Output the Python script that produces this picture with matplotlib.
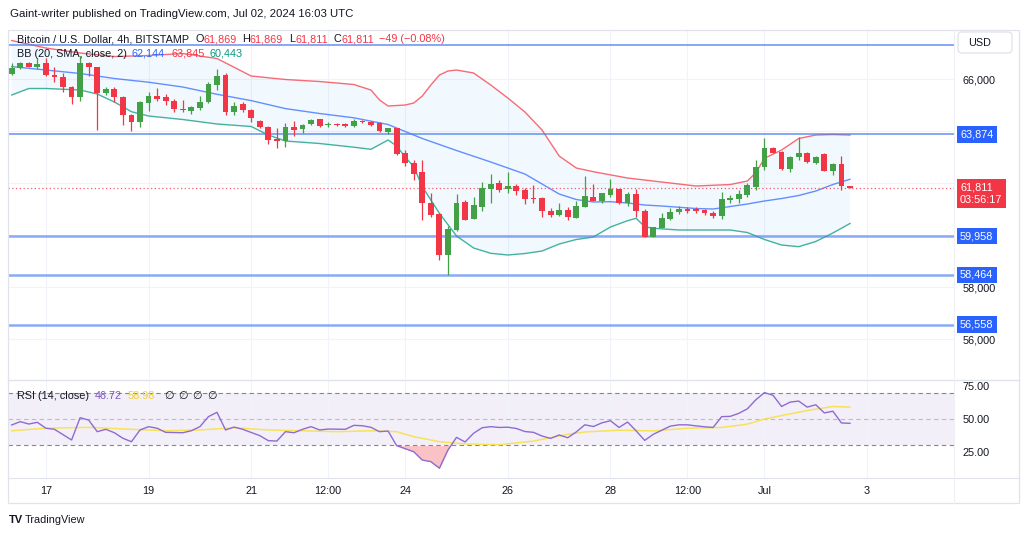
import numpy as np
import pandas as pd
import matplotlib
matplotlib.use("Agg")
import matplotlib.pyplot as plt
import matplotlib.transforms as mtrans
from matplotlib.patches import Rectangle, FancyBboxPatch

plt.rcParams['font.family'] = ['Liberation Sans', 'DejaVu Sans']

# ---------------- data ----------------
start_time = pd.Timestamp('2024-06-16 08:00')   # first visible 4h candle
opens = [66181, 66412, 66604, 66473, 66604, 66154, 66088, 65704, 65296, 66627,
         66450, 65450, 65615, 65319, 64627, 64335, 65065, 65346, 65296, 65165,
         64858, 64781, 64896, 65104, 65769, 66154, 64742, 65038, 64808, 64396,
         64165, 63681, 63627, 64165, 64077, 64269, 64450, 64212, 64269, 64258,
         64192, 64385, 64358, 64296, 63973, 64104, 63142, 62781, 62435, 61219,
         60796, 59231, 60192, 61281, 60615, 61089, 61769, 61988, 61769, 61896,
         61731, 61412, 61442, 60931, 60769, 60962, 60673, 61096, 61462, 61327,
         61538, 61758, 61219, 61565, 60935, 59935, 60281, 60615, 60896, 60988,
         60988, 60962, 60858, 60731, 61346, 61385, 61538, 61858, 62627, 63358,
         63204, 62527, 63012, 63142, 62758, 63104, 62473, 62719, 61869]
highs = [66604, 66666, 66666, 66796, 66796, 66473, 66219, 65731, 66885, 66666,
         66473, 65704, 65704, 65330, 64654, 65165, 65512, 65642, 65423, 65219,
         65192, 64962, 65346, 65896, 66385, 66242, 65127, 65127, 64835, 64423,
         64192, 64104, 64296, 64385, 64269, 64450, 64460, 64335, 64319, 64300,
         64462, 64410, 64385, 64358, 64127, 64127, 63269, 62885, 62885, 61604,
         60846, 60346, 61566, 61346, 61473, 62050, 62346, 62115, 62435, 61950,
         61796, 61923, 61473, 61027, 61219, 61089, 61327, 62269, 61962, 61630,
         62146, 61770, 61665, 61769, 60989, 60310, 60835, 61027, 61115, 61065,
         61065, 60988, 60935, 61665, 61538, 61731, 61988, 62885, 63719, 63396,
         63220, 63030, 63781, 63204, 63040, 63142, 62758, 63040, 61869]
lows = [66154, 66385, 66450, 66373, 66115, 65896, 65512, 65038, 65154, 66115,
        64038, 65385, 65127, 64231, 64012, 64142, 64769, 65154, 65000, 64742,
        64742, 64654, 64808, 65065, 65577, 64615, 64615, 64742, 64358, 64104,
        63488, 63335, 63396, 63808, 63912, 64231, 64170, 64165, 64192, 64170,
        64165, 64310, 64200, 63973, 63885, 63077, 62654, 62115, 60577, 60681,
        59038, 58462, 60165, 60560, 60600, 60923, 61231, 61665, 61635, 61538,
        61192, 61219, 60681, 60681, 60750, 60577, 60642, 61089, 61308, 61250,
        61473, 61192, 61115, 60681, 59923, 59912, 60258, 60577, 60808, 60835,
        60858, 60769, 60642, 60615, 61242, 61242, 61473, 61731, 62500, 63142,
        62500, 62412, 62885, 62758, 62719, 62460, 62308, 61731, 61811]
closes = [66412, 66604, 66473, 66577, 66154, 66088, 65704, 65296, 66604, 66450,
          65450, 65615, 65319, 64615, 64358, 65127, 65358, 65231, 65154, 64846,
          64819, 64912, 65127, 65796, 66115, 64742, 64962, 64808, 64488, 64142,
          63654, 63627, 64165, 64038, 64231, 64423, 64192, 64277, 64219, 64192,
          64385, 64335, 64231, 64012, 64104, 63115, 62758, 62346, 61219, 60769,
          59231, 60219, 61243, 60577, 61154, 61796, 61962, 61731, 61896, 61704,
          61373, 61373, 60912, 60769, 60962, 60692, 61115, 61500, 61327, 61615,
          61758, 61219, 61565, 60935, 59935, 60296, 60642, 60896, 60988, 60935,
          60935, 60835, 60742, 61385, 61435, 61577, 61923, 62627, 63335, 63165,
          62527, 63012, 63142, 62796, 63012, 62473, 62719, 61869, 61811]

# Bollinger Bands (20, SMA, close, 2) at candle indices
bb_mid_idx = [0, 4, 8, 12, 16, 20, 24, 28, 32, 36, 40, 44, 48, 52, 56, 60, 62, 64,
              66, 68, 70, 72, 74, 76, 80, 82, 84, 86, 88, 90, 92, 94, 96, 98]
bb_mid = [66477, 66346, 66212, 66019, 65877, 65692, 65412, 65169, 64862, 64673,
          64508, 64250, 63712, 63250, 62808, 62346, 61962, 61577, 61365, 61269,
          61281, 61231, 61154, 61115, 61019, 61000, 61096, 61192, 61308, 61404,
          61519, 61692, 61942, 62144]
bb_up_idx = [0, 4, 8, 12, 16, 20, 24, 28, 32, 36, 40, 42, 43, 44, 46, 47, 48, 49,
             50, 51, 52, 54, 56, 58, 60, 62, 64, 66, 68, 72, 76, 80, 84, 86, 87,
             88, 90, 92, 94, 96, 98]
bb_up = [67481, 67192, 67000, 66865, 66904, 66981, 66788, 66115, 65981, 65904,
         65788, 65577, 65192, 64962, 65000, 65077, 65346, 65769, 66154, 66308,
         66346, 66231, 65769, 65269, 64731, 64038, 63038, 62577, 62435, 62192,
         62038, 61885, 61942, 62077, 62400, 62950, 63269, 63712, 63846, 63865,
         63845]
bb_lo_idx = [0, 2, 4, 8, 10, 12, 14, 16, 20, 24, 28, 30, 32, 36, 40, 42, 44, 45,
             46, 47, 48, 49, 50, 52, 54, 56, 58, 60, 62, 64, 66, 68, 70, 72, 73,
             74, 75, 78, 84, 86, 88, 90, 92, 94, 96, 98]
bb_lo = [65385, 65635, 65635, 65577, 65423, 65115, 64742, 64577, 64442, 64269,
         64173, 63846, 63615, 63519, 63377, 63296, 63654, 63423, 63000, 62627,
         61858, 61346, 60835, 59962, 59500, 59296, 59231, 59288, 59385, 59654,
         59827, 59923, 60308, 60550, 60642, 60319, 60258, 60192, 60192, 60096,
         59827, 59615, 59550, 59750, 60077, 60443]

# Horizontal support / resistance levels
levels = [67308, 63874, 59958, 58464, 56558]
level_labels = ['', '63,874', '59,958', '58,464', '56,558']
last_price = 61811

# RSI (14, close) and its moving average
rsi_idx = [0, 1, 2, 3, 4, 5, 7, 8, 9, 10, 11, 12, 13, 14, 15, 16, 17, 18,
           20, 21, 22, 23, 24, 25, 26, 27, 29, 30, 31, 32, 33, 34, 35, 36, 37,
           39, 40, 41, 42, 43, 44, 45, 47, 48, 49, 50, 51, 52, 53, 54, 55, 56,
           57, 58, 59, 60, 61, 62, 63, 64, 65, 66, 67, 68, 69, 70, 71, 72, 73,
           74, 75, 77, 78, 79, 80, 81, 82, 83, 84, 85, 86, 87, 88, 89, 90, 91,
           92, 93, 94, 95, 96, 97, 98]
rsi = [45.5, 48.0, 46.2, 47.5, 43.0, 42.2, 34.1, 51.0, 49.2, 40.4, 42.2, 39.6,
       35.4, 32.8, 41.7, 44.2, 43.0, 39.9, 39.6, 41.1, 44.2, 51.8, 55.1, 41.7,
       43.9, 42.2, 37.4, 33.6, 33.3, 40.4, 39.6, 42.2, 44.2, 41.7, 42.4, 42.2,
       45.2, 44.9, 43.7, 40.4, 40.9, 29.8, 25.2, 18.9, 17.7, 12.7, 26.5, 36.1,
       32.6, 39.2, 43.4, 44.2, 43.6, 43.8, 42.8, 40.5, 39.9, 37.1, 35.3, 37.9,
       35.8, 40.2, 45.6, 44.3, 47.1, 48.7, 43.6, 47.7, 41.0, 33.8, 38.4, 44.6,
       45.6, 45.6, 44.8, 44.1, 43.6, 51.8, 52.0, 54.3, 57.7, 64.6, 70.0, 68.0,
       59.5, 62.8, 63.6, 59.0, 60.8, 54.6, 55.9, 47.0, 46.72]
rsi_ma_idx = [0, 4, 9, 14, 18, 22, 26, 30, 34, 38, 42, 45, 47, 50, 53, 57, 61,
              65, 67, 71, 75, 79, 83, 86, 88, 90, 93, 96, 98]
rsi_ma = [41.1, 43.0, 43.7, 42.2, 41.1, 41.7, 43.4, 41.7, 41.1, 40.4, 41.1, 40.4,
          36.6, 32.8, 31.1, 30.5, 33.3, 38.4, 40.2, 41.5, 41.0, 43.0, 43.6, 46.1,
          50.0, 52.6, 56.4, 59.5, 58.98]

tick_dates = ['2024-06-17', '2024-06-19', '2024-06-21', '2024-06-22 12:00',
              '2024-06-24', '2024-06-26', '2024-06-28', '2024-06-29 12:00',
              '2024-07-01', '2024-07-03']
tick_labels = ['17', '19', '21', '12:00', '24', '26', '28', '12:00', 'Jul', '3']
price_ticks = [56000, 58000, 60000, 62000, 64000, 66000]
hidden_price_ticks = [60000, 62000, 64000]     # covered by level labels in the chart
rsi_ticks = [25, 50, 75]

# ---------------- styling ----------------
GREEN = '#43A047'
RED = '#F23645'
BLUE = '#2962FF'
TEAL = '#089981'
LEVEL = '#4A7EF0'
TXT = '#131722'
GRID = '#F0F3FA'
FS = 7.8

W, H = 1024, 536
fig = plt.figure(figsize=(W / 100, H / 100), dpi=100)
fig.patch.set_facecolor('white')


def axes_px(x0, y0, x1, y1, **kw):
    return fig.add_axes([x0 / W, 1 - y1 / H, (x1 - x0) / W, (y1 - y0) / H], **kw)


XL, XR = 8, 954
x_left = (XL - 11.7) / 8.554
x_right = (XR - 11.7) / 8.554
tick_pos = [(pd.Timestamp(d) - start_time) / pd.Timedelta(hours=4) for d in tick_dates]

# ---------- main price pane ----------
ax = axes_px(XL, 30, XR, 379)
ax.set_xlim(x_left, x_right)
ax.set_ylim(54462, 67885)
for s in ax.spines.values():
    s.set_visible(False)
ax.set_xticks(tick_pos)
ax.set_xticklabels([])
ax.set_yticks(price_ticks)
ax.set_yticklabels(['' if v in hidden_price_ticks else f'{v:,}' for v in price_ticks])
ax.yaxis.tick_right()
ax.tick_params(axis='both', length=0, labelsize=FS, labelcolor=TXT, pad=6)
ax.grid(True, color=GRID, linewidth=0.8, zorder=0)
ax.set_axisbelow(True)

# Bollinger band fill and lines
poly_x = list(bb_up_idx) + list(bb_lo_idx)[::-1]
poly_y = list(bb_up) + list(bb_lo)[::-1]
ax.fill(poly_x, poly_y, color='#2196F3', alpha=0.06, lw=0, zorder=1)
ax.plot(bb_up_idx, bb_up, color='#F7525F', lw=1.0, alpha=0.85, zorder=2)
ax.plot(bb_mid_idx, bb_mid, color=BLUE, lw=1.0, alpha=0.7, zorder=2)
ax.plot(bb_lo_idx, bb_lo, color=TEAL, lw=1.0, alpha=0.75, zorder=2)

# horizontal levels
for i, lv in enumerate(levels):
    lw = 1.1 if i < 2 else 1.8
    ax.axhline(lv, color=LEVEL, lw=lw, alpha=0.85 if i < 2 else 0.65, zorder=2.5)

# last price dotted line
ax.axhline(last_price, color=RED, lw=0.9, ls=(0, (1, 2)), alpha=0.8, zorder=2.5)

# candles
o = np.array(opens); h = np.array(highs); l = np.array(lows); c = np.array(closes)
idx = np.arange(len(o))
cols = np.where(c >= o, GREEN, RED)
ax.vlines(idx, l, h, colors=cols, linewidth=0.9, zorder=3)
ax.bar(idx, np.maximum(np.abs(c - o), 40), bottom=np.minimum(o, c), width=0.68,
       color=cols, linewidth=0, zorder=4)

# right-side price labels
tr = mtrans.blended_transform_factory(ax.transAxes, ax.transData)
for lv, lab in zip(levels, level_labels):
    if lab:
        ax.text(1 + 6 / 946, lv, lab, transform=tr, ha='left', va='center',
                color='white', fontsize=FS, clip_on=False, zorder=20,
                bbox=dict(boxstyle='square,pad=0.3', fc=BLUE, ec='none'))
ax.text(1 + 6 / 946, last_price - 230, f'{last_price:,}\n03:56:17', transform=tr,
        ha='left', va='center', color='white', fontsize=FS, clip_on=False,
        zorder=20, linespacing=1.3,
        bbox=dict(boxstyle='square,pad=0.3', fc=RED, ec='none'))

# ---------- RSI pane ----------
ax2 = axes_px(XL, 381, XR, 478)
ax2.set_xlim(x_left, x_right)
ax2.set_ylim(5.3, 78.8)
for s in ax2.spines.values():
    s.set_visible(False)
ax2.set_xticks(tick_pos)
ax2.set_xticklabels(tick_labels)
ax2.set_yticks(rsi_ticks)
ax2.set_yticklabels([f'{v:.2f}' for v in rsi_ticks])
ax2.yaxis.tick_right()
ax2.tick_params(axis='y', length=0, labelsize=FS, labelcolor=TXT, pad=6)
ax2.tick_params(axis='x', length=0, labelsize=FS, labelcolor=TXT, pad=6)
ax2.grid(True, axis='x', color=GRID, linewidth=0.8, zorder=0)
ax2.set_axisbelow(True)
ax2.axhspan(30, 70, color='#7E57C2', alpha=0.09, lw=0, zorder=0.5)
for lvl, a in [(70, 0.9), (50, 0.45), (30, 0.9)]:
    ax2.axhline(lvl, color='#787B86', lw=0.8, ls=(0, (4, 3)), alpha=a, zorder=1)
ri = np.array(rsi_idx, dtype=float); rv = np.array(rsi)
ax2.fill_between(ri, rv, 30, where=rv < 30, interpolate=True, color='#F23645',
                 alpha=0.3, lw=0, zorder=1.5)
ax2.plot(rsi_ma_idx, rsi_ma, color='#F7E25A', lw=1.1, zorder=2)
ax2.plot(rsi_idx, rsi, color='#8E6BD1', lw=1.0, zorder=3)

# ---------- overlay (frame, texts) ----------
ov = axes_px(0, 0, W, H, zorder=30)
ov.set_xlim(0, W); ov.set_ylim(H, 0); ov.axis('off'); ov.patch.set_alpha(0)
ov.add_patch(Rectangle((8, 30), 1011, 473, fill=False, ec='#E0E3EB', lw=0.9))
ov.plot([8, 1019], [380, 380], color='#E0E3EB', lw=1.0)
ov.plot([8, 1019], [478, 478], color='#E0E3EB', lw=0.8)
ov.plot([954, 954], [30, 503], color='#EEF0F5', lw=0.8)
ov.add_patch(FancyBboxPatch((958, 32), 54, 21, boxstyle='round,pad=0,rounding_size=4',
                            fc='white', ec='#E0E3EB', lw=0.9))
ov.text(968, 43, 'USD', fontsize=FS, color=TXT, va='center', ha='left')

ov.text(10, 14, 'Gaint-writer published on TradingView.com, Jul 02, 2024 16:03 UTC',
        fontsize=8.2, color=TXT, va='center', ha='left')

y1 = 39
ov.text(17, y1, 'Bitcoin / U.S. Dollar, 4h, BITSTAMP', fontsize=FS, color=TXT, va='center')
for xx, t, col in [(196, 'O', TXT), (203, '61,869', RED), (242, 'H', TXT), (250, '61,869', RED),
                   (289, 'L', TXT), (295, '61,811', RED), (334, 'C', TXT), (341, '61,811', RED),
                   (379, '\u221249 (\u22120.08%)', RED)]:
    ov.text(xx, y1, t, fontsize=FS, color=col, va='center')
y2 = 54
ov.text(17, y2, 'BB (20, SMA, close, 2)', fontsize=FS, color=TXT, va='center')
ov.text(132, y2, '62,144', fontsize=FS, color=BLUE, va='center')
ov.text(172, y2, '63,845', fontsize=FS, color=RED, va='center')
ov.text(210, y2, '60,443', fontsize=FS, color=TEAL, va='center')

y3 = 396
ov.text(17, y3, 'RSI (14, close)', fontsize=FS, color=TXT, va='center')
ov.text(95, y3, '46.72', fontsize=FS, color='#7E57C2', va='center')
ov.text(128, y3, '58.98', fontsize=FS, color='#F2D22E', va='center')
for xx in [164, 178, 192, 207]:
    ov.text(xx, y3, '\u2205', fontsize=FS, color=TXT, va='center', family='DejaVu Sans')

ov.text(9, 520, 'TV', fontsize=8, color=TXT, va='center', fontweight='bold')
ov.text(25, 520, 'TradingView', fontsize=7.8, color=TXT, va='center')

fig.savefig('out.png', dpi=100, facecolor='white')
